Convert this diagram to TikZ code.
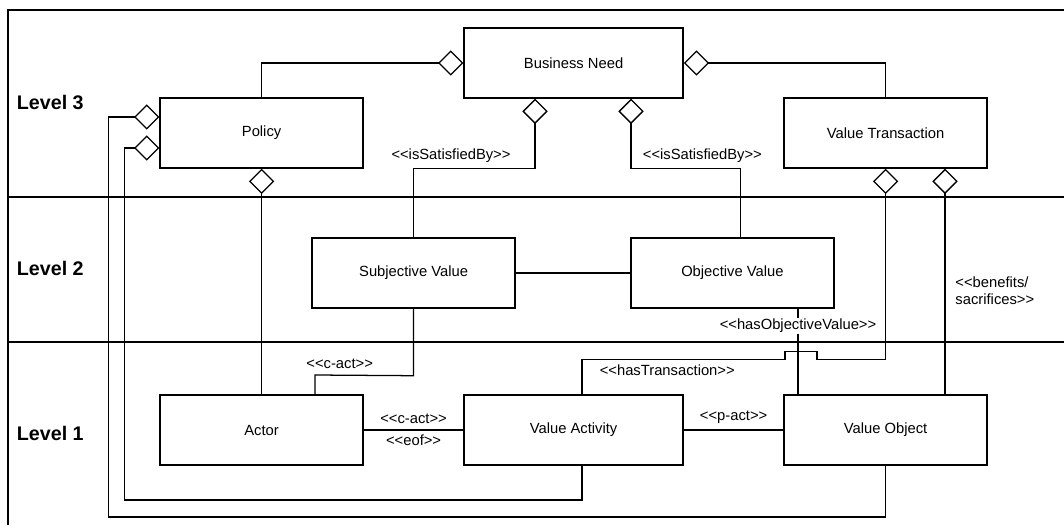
\documentclass[tikz,border=0pt]{standalone}
\usepackage{fontspec}
\setmainfont{Liberation Sans}
\usepackage{tikz}
\usetikzlibrary{
        arrows.meta,
        positioning
    }

\begin{document}
\begin{tikzpicture}
[block/.style={rectangle, minimum width=5.075cm, minimum height=1.75cm, text centered, font=\fontsize{10.5}{12}\selectfont, draw=black, line width=1pt, fill=white},
wideblock/.style={block, minimum width=5.475cm},
level/.style={anchor=west, font=\fontsize{14}{16}\selectfont\bfseries},
tag/.style={inner sep=1pt, font=\fontsize{10.5}{12}\selectfont},
link/.style={line width=0.9pt},
aggregation/.style={link, {Diamond[open, length=18pt, width=18pt]}-},
node distance=7.8cm,]
\useasboundingbox (0,0) rectangle (26.6,-13.125);
\draw[line width=1pt] (26.6,-0.25) -- (0.2,-0.25) -- (0.2,-13.125);
\draw[line width=1pt] (0.2,-4.925) -- (26.6,-4.925);
\draw[line width=1pt] (0.2,-8.55) -- (26.6,-8.55);
\node (level3) [level] at (0.3,-2.55) {Level 3};
\node (level2) [level] at (0.3,-6.7) {Level 2};
\node (level1) [level] at (0.3,-10.83) {Level 1};
\node (need) [wideblock, xshift = 14.34cm, yshift = -1.575cm] {Business Need};
\node (policy) [block, left of = need, yshift = -1.75cm] {Policy};
\node (transaction) [block, right of = need, yshift = -1.75cm] {Value Transaction};
\node (actor) [block, below of = policy, yshift = 0.375cm] {Actor};
\node (activity) [wideblock, right of = actor] {Value Activity};
\node (object) [block, right of = activity] {Value Object};
\node (subjective) [block, below of = need, xshift = -4cm, yshift = 2.55cm] {Subjective Value};
\node (objective) [block, below of = need, xshift = 3.97cm, yshift = 2.55cm] {Objective Value};
\draw[aggregation] (need) -| (policy);
\draw[aggregation] (need) -| (transaction);
\draw[aggregation] ([xshift=-0.965cm]need.south) -- ++(0,-1.75) -| node[tag, above=3pt, pos=0.346]{<{}<isSatisfiedBy>{}>}(subjective);
\draw[aggregation] ([xshift=1.435cm]need.south) -- ++(0,-1.75) -| node[tag, above=3pt, pos=0.325]{<{}<isSatisfiedBy>{}>}([xshift=0.21cm]objective.north);
\draw[aggregation] (policy) -- (actor);
\draw[aggregation] ([yshift=0.4cm]policy.west) -- ++(-1.275,0) -- ++(0,-10) -| (object);
\draw[aggregation] ([yshift=-0.375cm]policy.west) -- ++(-0.875,0) -- ++(0,-8.8) -| ([xshift=0.21cm]activity.south);
\draw[link] (subjective) -- (objective);
\draw[link] (subjective.south) -- ++(0,-1.675) -- node[tag, above=3pt, pos=0.75]{<{}<c-act>{}>}([xshift=1.335cm]actor.north |- 0,-9.375) -- ([xshift=1.335cm]actor.north);
\draw[link] (actor) -- node[tag, above=3pt]{<{}<c-act>{}>} node[tag, below=2pt]{<{}<eof>{}>}(activity);
\draw[link] (activity) -- node[tag, above=3pt]{<{}<p-act>{}>}(object);
\draw[aggregation] (transaction.south) -- ++(0,-4.775) -- ++(-1.715,0) -- ++(0,0.2) -- ++(-0.8,0) -- ++(0,-0.2) -| node[tag, below=2pt, pos=0.29]{<{}<hasTransaction>{}>}([xshift=0.21cm]activity.north);
\draw[link] ([xshift=-2.19cm]object.north) -- node[tag, fill=white, pos=0.8]{<{}<hasObjectiveValue>{}>}([xshift=-2.19cm]object.north |- objective.south);
\draw[aggregation] ([xshift=1.485cm]transaction.south) -- node[tag, right=6pt, align=left, pos=0.54]{<{}<benefits/\\sacrifices>{}>}([xshift=1.485cm]object.north);

\end{tikzpicture}
\end{document}
